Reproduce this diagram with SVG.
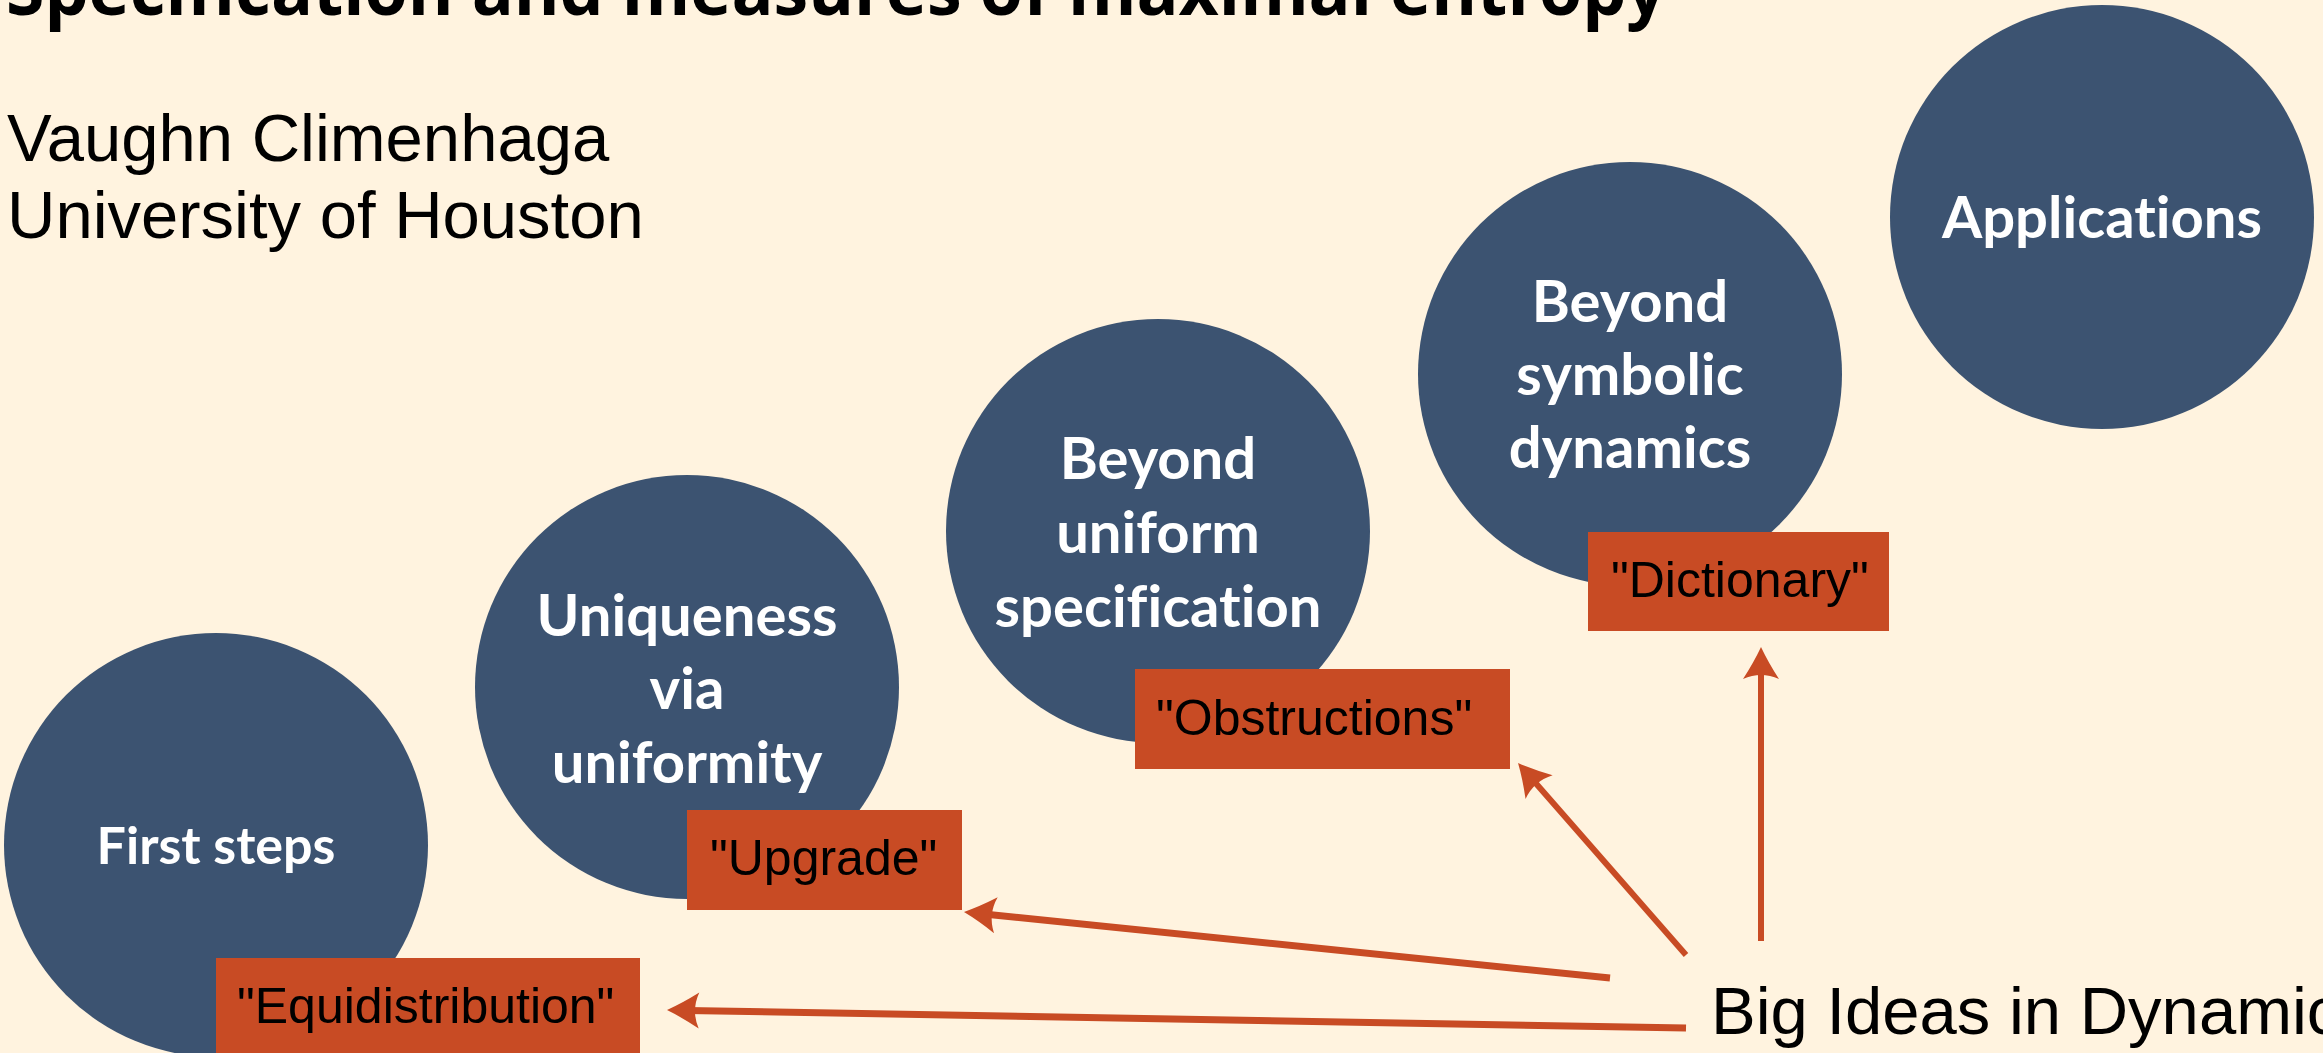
<svg xmlns="http://www.w3.org/2000/svg" width="2323" height="1053" viewBox="0 0 2323 1053">
<defs>
<style>
.bg{fill:#FFF3DF}
.circ{fill:#3C5371}
.ctext{fill:#FFFFFF;font-family:Lato,"Open Sans","DejaVu Sans",sans-serif;font-weight:bold;font-size:58px;text-anchor:middle;font-variant-ligatures:none;font-feature-settings:"liga" 0,"dlig" 0}
.box{fill:#C84B24}
.btext{fill:#000000;font-family:"Liberation Sans",Arial,sans-serif;font-size:50px}
.plain{fill:#000000;font-family:"Liberation Sans",Arial,sans-serif;font-size:67px}
.title{fill:#000000;font-family:"Open Sans","DejaVu Sans",sans-serif;font-weight:bold;font-size:71px}
.conn{stroke:#C84B24;fill:none;stroke-linecap:butt}
</style>
<marker id="ah" markerUnits="userSpaceOnUse" viewBox="-34 -20 36 40" markerWidth="36" markerHeight="40" refX="-20" refY="0" orient="auto">
<path d="M0,0 Q-15,-7 -32,-18 Q-24,0 -32,18 Q-15,7 0,0 Z" fill="#C84B24"/>
</marker>
</defs>
<rect class="bg" x="0" y="0" width="2323" height="1053"/>
<g id="title">
<text class="title" x="6" y="15" textLength="1660" lengthAdjust="spacingAndGlyphs">Specification and measures of maximal entropy</text>
</g>
<g id="author">
<text class="plain" x="7" y="161">Vaughn Climenhaga</text>
<text class="plain" x="7" y="238">University of Houston</text>
</g>
<g id="node-first-steps">
<circle class="circ" cx="216" cy="845" r="212"/>
</g>
<g id="node-uniqueness">
<circle class="circ" cx="687" cy="687" r="212"/>
<text class="ctext" x="687" y="636">Uniqueness</text>
<text class="ctext" x="687" y="709">via</text>
<text class="ctext" x="687" y="783">uniformity</text>
</g>
<g id="node-beyond-uniform">
<circle class="circ" cx="1158" cy="531" r="212"/>
<text class="ctext" x="1158" y="479">Beyond</text>
<text class="ctext" x="1158" y="553">uniform</text>
<text class="ctext" x="1158" y="627">specification</text>
</g>
<g id="node-beyond-symbolic">
<circle class="circ" cx="1630" cy="374" r="212"/>
<text class="ctext" x="1630" y="322">Beyond</text>
<text class="ctext" x="1630" y="395">symbolic</text>
<text class="ctext" x="1630" y="468">dynamics</text>
</g>
<g id="node-applications">
<circle class="circ" cx="2102" cy="217" r="212"/>
<text class="ctext" x="2102" y="238">Applications</text>
</g>
<g id="label-first-steps">
<text class="ctext" x="216" y="864" style="font-size:52px">First steps</text>
</g>
<g id="node-equidistribution">
<rect class="box" x="216" y="958" width="424" height="100"/>
<text class="btext" x="237" y="1023">"Equidistribution"</text>
</g>
<g id="node-upgrade">
<rect class="box" x="687" y="810" width="275" height="100"/>
<text class="btext" x="710" y="875">"Upgrade"</text>
</g>
<g id="node-obstructions">
<rect class="box" x="1135" y="669" width="375" height="100"/>
<text class="btext" x="1156" y="735">"Obstructions"</text>
</g>
<g id="node-dictionary">
<rect class="box" x="1588" y="532" width="301" height="99"/>
<text class="btext" x="1611" y="597">"Dictionary"</text>
</g>
<g id="node-big-ideas">
<text class="plain" x="1711" y="1034">Big Ideas in Dynamics</text>
</g>
<g id="connectors">
<line class="conn" x1="1686" y1="1028" x2="687" y2="1010.4" stroke-width="7" marker-end="url(#ah)"/>
<line class="conn" x1="1610" y1="978" x2="983.9" y2="914" stroke-width="7" marker-end="url(#ah)"/>
<line class="conn" x1="1686" y1="955" x2="1531.2" y2="778" stroke-width="6" marker-end="url(#ah)"/>
<line class="conn" x1="1761" y1="941" x2="1761" y2="667" stroke-width="6" marker-end="url(#ah)"/>
</g>
</svg>
